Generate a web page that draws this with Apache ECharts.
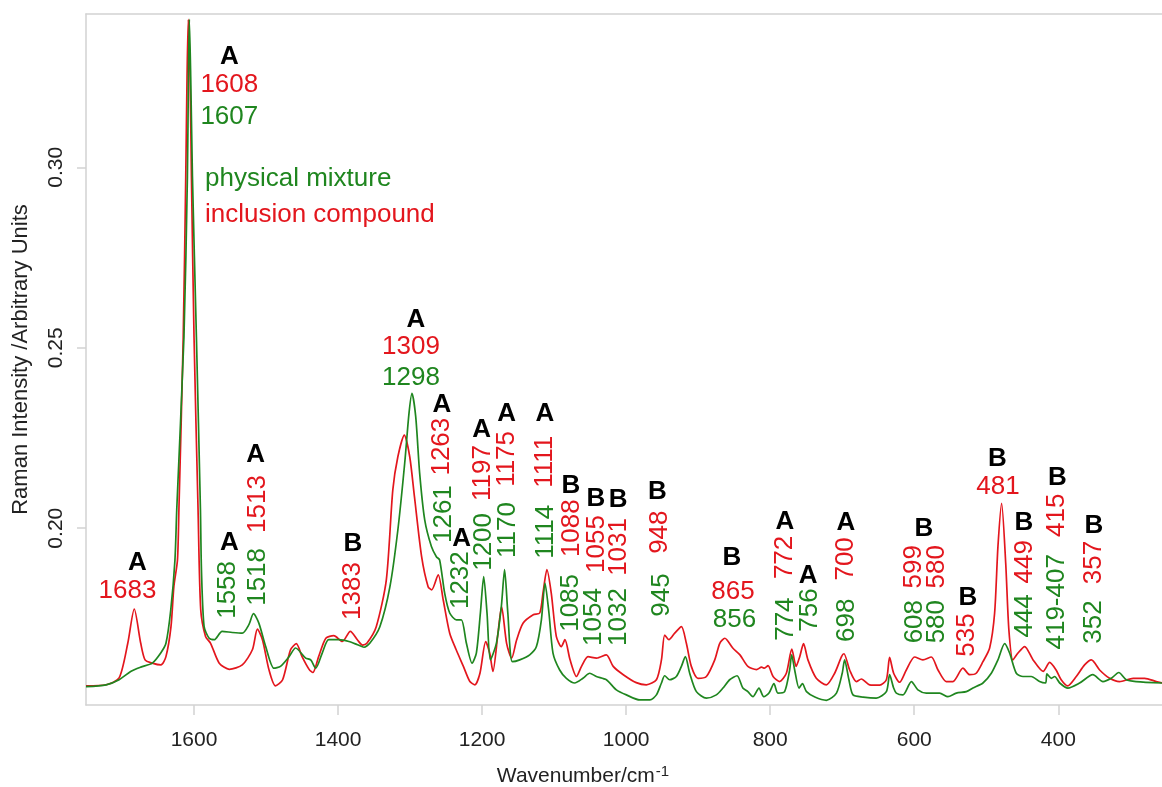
<!DOCTYPE html>
<html>
<head>
<meta charset="utf-8">
<script src="https://cdn.jsdelivr.net/npm/echarts@6/dist/echarts.min.js"></script>
<style>
html,body{margin:0;padding:0;background:#fff;}
#chart{width:1162px;height:787px;}
</style>
</head>
<body>
<div id="chart"></div>
<script>
// ---- data (wavenumber / cm-1, Raman intensity) ----
const inclusionCompound = [
[1750,0.1563],[1722,0.1566],[1704,0.1585],[1692,0.1681],[1683,0.1776],[1674,0.1681],[1668,0.1635],
[1658,0.1626],[1646,0.1621],[1639,0.1644],[1632,0.1727],[1628,0.1838],[1623,0.1912],[1621,0.2051],
[1615,0.2530],[1611.5,0.2974],[1609.7,0.3250],[1608,0.3410],[1605.5,0.3250],[1603.6,0.2974],
[1600,0.2530],[1594.4,0.2051],[1590.7,0.1774],[1584,0.1700],[1577,0.1681],[1565,0.1626],[1551,0.1609],
[1533,0.1621],[1519,0.1663],[1512,0.1720],[1505,0.1691],[1496,0.1608],[1487,0.1563],[1477,0.1580],
[1466,0.1663],[1458,0.1680],[1450,0.1644],[1440,0.1608],[1435,0.1600],[1427,0.1644],[1417,0.1695],
[1406,0.1702],[1394,0.1686],[1383,0.1714],[1373,0.1690],[1366,0.1676],[1360,0.1681],[1347,0.1727],
[1333,0.1857],[1324,0.2106],[1317,0.2198],[1308,0.2258],[1300.5,0.2198],[1294,0.2088],[1284,0.1921],
[1275,0.1838],[1270,0.1829],[1261,0.1871],[1254,0.1801],[1245,0.1709],[1236,0.1663],[1226,0.1617],
[1217,0.1575],[1210,0.1566],[1203,0.1598],[1195,0.1686],[1189.5,0.1654],[1185,0.1603],[1178,0.1709],
[1173,0.1783],[1166,0.1681],[1159,0.1640],[1152,0.1691],[1143,0.1737],[1129,0.1760],[1120,0.1765],
[1115.5,0.1820],[1110,0.1885],[1104,0.1820],[1097,0.1700],[1090,0.1672],[1085,0.1691],[1078,0.1636],
[1069,0.1589],[1062,0.1617],[1053,0.1644],[1041,0.1640],[1027.5,0.1649],[1018,0.1617],[1004,0.1594],
[986,0.1572],[972,0.1566],[958,0.1580],[951,0.1635],[946.5,0.1704],[940.6,0.1691],[932.6,0.1709],
[923.3,0.1727],[916.4,0.1681],[909.5,0.1617],[900.3,0.1584],[888.6,0.1589],[877,0.1635],[870,0.1681],
[863,0.1695],[852,0.1668],[842,0.1649],[831,0.1617],[819,0.1608],[812,0.1615],[808,0.1612],[803,0.1619],
[796,0.1589],[787,0.1575],[777.6,0.1598],[770,0.1665],[764,0.1617],[759,0.1644],[753.7,0.1680],
[747.6,0.1635],[736,0.1584],[722,0.1566],[710.5,0.1598],[701,0.1644],[697.6,0.1652],[689.7,0.1607],
[680.4,0.1575],[673.4,0.1582],[662,0.1566],[648,0.1565],[638.7,0.1580],[634.2,0.1642],[628.6,0.1598],
[620.3,0.1573],[611,0.1607],[599.5,0.1643],[588,0.1635],[576.3,0.1643],[567,0.1607],[555.5,0.1575],
[546.3,0.1575],[532.4,0.1612],[523,0.1594],[514,0.1598],[504.6,0.1630],[495.3,0.1668],[488.4,0.1765],
[483.8,0.1949],[478.7,0.2069],[473,0.1903],[468.6,0.1718],[463,0.1635],[456,0.1654],[446.7,0.1672],
[435,0.1635],[421,0.1603],[412,0.1628],[403,0.1607],[396,0.1580],[387,0.1563],[375,0.1589],
[363.5,0.1621],[354,0.1635],[342.6,0.1607],[328.7,0.1584],[315,0.1575],[296,0.1584],[280,0.1584],
[264,0.1575],[256,0.1571]
];
const physicalMixture = [
[1750,0.1561],[1722,0.1566],[1704,0.1580],[1688,0.1603],[1674,0.1615],[1658,0.1626],[1646,0.1655],
[1639,0.1681],[1632.3,0.1774],[1626.5,0.1912],[1624,0.2051],[1614,0.2530],[1609.2,0.2974],
[1607.8,0.3250],[1606.5,0.3410],[1604.6,0.3250],[1602.2,0.2974],[1596.7,0.2530],[1591.1,0.2051],
[1589.7,0.1885],[1586,0.1727],[1579,0.1695],[1572,0.1691],[1561,0.1714],[1547,0.1711],[1533,0.1709],
[1524,0.1732],[1517.5,0.1763],[1510,0.1737],[1500.5,0.1672],[1489,0.1612],[1480,0.1617],[1468,0.1644],
[1459,0.1668],[1445,0.1640],[1438,0.1635],[1431,0.1612],[1422,0.1654],[1413,0.1691],[1399,0.1691],
[1385,0.1686],[1373,0.1677],[1364,0.1670],[1356,0.1681],[1342,0.1727],[1328,0.1838],[1317,0.1995],
[1307.5,0.2180],[1301.5,0.2319],[1297.4,0.2374],[1292.2,0.2309],[1286.7,0.2152],[1279.7,0.2023],
[1270.4,0.1949],[1263.5,0.1921],[1259,0.1912],[1252,0.1820],[1245,0.1765],[1235.7,0.1746],
[1228.8,0.1746],[1221.8,0.1681],[1214,0.1626],[1208,0.1654],[1202.4,0.1765],[1197.8,0.1866],
[1193.2,0.1765],[1188.5,0.1635],[1180.2,0.1681],[1173.3,0.1783],[1168.8,0.1885],[1164.3,0.1765],
[1158,0.1630],[1147.8,0.1635],[1133.9,0.1649],[1124.6,0.1672],[1117.7,0.1746],[1112.7,0.1848],
[1107.2,0.1765],[1101.6,0.1654],[1092.3,0.1607],[1083,0.1584],[1071.5,0.1571],[1060,0.1584],
[1050.6,0.1598],[1041.4,0.1589],[1027.5,0.1580],[1013.6,0.1552],[999.7,0.1538],[981,0.1524],
[967,0.1524],[958,0.1538],[951,0.1571],[946.5,0.1591],[939.6,0.1580],[930.3,0.1589],[923.3,0.1617],
[917.8,0.1644],[911.8,0.1598],[902.5,0.1547],[888.6,0.1529],[874.8,0.1538],[865.6,0.1557],
[856.3,0.1580],[846,0.1591],[838,0.1557],[831,0.1547],[824,0.1533],[815.6,0.1557],[809,0.1533],
[801.7,0.1543],[794.8,0.1569],[789.3,0.1543],[780,0.1547],[773,0.1607],[770.2,0.1649],[766,0.1607],
[760,0.1557],[755.3,0.1569],[749.6,0.1547],[738,0.1532],[722,0.1523],[708,0.1543],[700,0.1598],
[696.7,0.1635],[690.7,0.1580],[685,0.1538],[671,0.1532],[652.7,0.1529],[638.7,0.1547],[634.2,0.1594],
[628.6,0.1557],[624.9,0.1543],[615.7,0.1538],[604,0.1575],[594.9,0.1552],[583.3,0.1543],[564.8,0.1543],
[553.3,0.1533],[541.6,0.1543],[527.7,0.1547],[518.5,0.1557],[504.6,0.1571],[493,0.1598],[483.8,0.1635],
[474.5,0.1680],[467.6,0.1654],[458.3,0.1598],[449,0.1589],[437.5,0.1589],[426,0.1575],[417.6,0.1571],
[415.8,0.1596],[409.7,0.1584],[405,0.1589],[398,0.1571],[386.7,0.1557],[370.4,0.1571],[352,0.1594],
[338,0.1575],[326.4,0.1584],[316,0.1600],[305.6,0.1580],[291.7,0.1575],[256,0.1571]
];
const xTickValues = [1600,1400,1200,1000,800,600,400];
const yTickValues = [0.20,0.25,0.30];

// annotations: [text, wavenumber, intensity, vertical(1) / horizontal(0)]
const bandLetters = [
['A',1551,0.3306,0],['A',1678.5,0.1903,0],['A',1550.8,0.1959,0],['A',1514.4,0.2203,0],['B',1379.3,0.1956,0],
['A',1292.1,0.2577,0],['A',1255.7,0.2343,0],['A',1228.4,0.1970,0],['A',1200.6,0.2272,0],['A',1165.9,0.2316,0],
['A',1112.7,0.2316,0],['B',1076.6,0.2117,0],['B',1041.9,0.2081,0],['B',1011.3,0.2078,0],['B',956.5,0.2100,0],
['B',853.1,0.1917,0],['A',779.5,0.2018,0],['A',747.5,0.1868,0],['A',694.8,0.2014,0],['B',586.5,0.1998,0],
['B',525.4,0.1806,0],['B',484.4,0.2192,0],['B',447.6,0.2016,0],['B',401.1,0.2140,0],['B',350.4,0.2006,0]
];
const inclusionLabels = [
['1608',1551,0.3228,0],['1683',1692.4,0.1826,0],['1513',1511.9,0.2067,1],['1383',1379.3,0.1826,1],
['1309',1298.7,0.2502,0],['1263',1255.7,0.2226,1],['1197',1199.5,0.2153,1],['1175',1165.9,0.2192,1],
['1111',1112.7,0.2184,1],['1088',1075.2,0.2000,1],['1055',1040.5,0.1956,1],['1031',1009.9,0.1948,1],
['948',953.4,0.1989,1],['865',851.7,0.1824,0],['772',779.5,0.1919,1],['700',694.4,0.1915,1],
['599',600.3,0.1893,1],['580',568.8,0.1893,1],['535',527.2,0.1704,1],['481',483.7,0.2115,0],
['449',446.9,0.1907,1],['415',401.8,0.2036,1],['357',350.4,0.1905,1]
];
const mixtureLabels = [
['1607',1551,0.3140,0],['1558',1552.8,0.1829,1],['1518',1511.9,0.1865,1],['1298',1298.7,0.2416,0],
['1261',1252.9,0.2039,1],['1232',1229.3,0.1856,1],['1200',1197.4,0.1962,1],['1170',1164.8,0.1995,1],
['1114',1111.3,0.1990,1],['1085',1076.6,0.1793,1],['1054',1044.7,0.1754,1],['1032',1009.9,0.1754,1],
['945',950.2,0.1815,1],['856',849.6,0.1745,0],['774',778.4,0.1748,1],['756',744.7,0.1773,1],
['698',693.4,0.1745,1],['608',599,0.1741,1],['580',568.8,0.1741,1],['444',446.2,0.1757,1],
['419-407',401.8,0.1796,1],['352',350.4,0.1740,1]
];
// legend texts: [text, wavenumber (left edge), intensity]
const legendNotes = [
['physical mixture',1584.8,0.2967,'green'],
['inclusion compound',1584.8,0.2868,'red']
];

const RED = '#e3161d';
const GREEN = '#1f861f';
const SANS = '"Liberation Sans", Arial, sans-serif';

function labelSeries(name, arr, color, bold) {
  return {
    type: 'scatter', name: name, silent: true, z: 5,
    symbol: 'circle', symbolSize: 1,
    itemStyle: { color: 'transparent', opacity: 1 },
    data: arr.map(d => ({
      value: [d[1], d[2]],
      label: {
        show: true, position: 'inside', formatter: d[0],
        rotate: d[3] ? 90 : 0, align: 'center', verticalAlign: 'middle',
        color: color, fontSize: 26, fontFamily: SANS, opacity: 1,
        textBorderWidth: 0,
        fontWeight: bold ? 'bold' : 'normal'
      }
    }))
  };
}

const chart = echarts.init(document.getElementById('chart'), null, { renderer: 'canvas' });
const axisGray = '#d2d2d2';
chart.setOption({
  animation: false,
  backgroundColor: '#ffffff',
  grid: { left: 86, top: 14, right: 0, bottom: 82, containLabel: false, outerBoundsMode: 'none' },
  xAxis: [{
    type: 'value', inverse: true, min: 256, max: 1750,
    name: '{a|Wavenumber/cm}{b|-1}', nameLocation: 'middle', nameGap: 59,
    nameTextStyle: {
      padding: [0, 82, 0, 0],
      rich: {
        a: { fontFamily: SANS, fontSize: 21, color: '#222' },
        b: { fontFamily: SANS, fontSize: 15, color: '#222', padding: [0, 0, 10, 1] }
      }
    },
    axisLine: { show: true, onZero: false, lineStyle: { color: axisGray, width: 1.5 } },
    axisTick: { show: true, length: 10, lineStyle: { color: axisGray, width: 1.5 }, customValues: xTickValues },
    axisLabel: { show: true, margin: 25, color: '#222', fontFamily: SANS, fontSize: 21,
      customValues: xTickValues, formatter: v => String(v) },
    splitLine: { show: false }
  }, {
    type: 'value', inverse: true, min: 256, max: 1750, position: 'top',
    axisLine: { show: true, onZero: false, lineStyle: { color: axisGray, width: 1.5 } },
    axisTick: { show: false }, axisLabel: { show: false }, splitLine: { show: false }
  }],
  yAxis: {
    type: 'value', min: 0.151, max: 0.3425,
    name: 'Raman Intensity /Arbitrary Units', nameLocation: 'middle', nameGap: 54, nameRotate: 90,
    nameTextStyle: { fontFamily: SANS, fontSize: 22, color: '#222' },
    axisLine: { show: true, onZero: false, lineStyle: { color: axisGray, width: 1.5 } },
    axisTick: { show: true, length: 9, lineStyle: { color: axisGray, width: 1.5 }, customValues: yTickValues },
    axisLabel: {
      show: true, rotate: 90, margin: 19, color: '#222', fontFamily: SANS, fontSize: 21,
      customValues: yTickValues, formatter: v => v.toFixed(2)
    },
    splitLine: { show: false }
  },
  series: [
    {
      type: 'line', name: 'inclusion compound', data: inclusionCompound,
      symbol: 'none', showSymbol: false, smooth: 0.25, z: 2,
      lineStyle: { color: RED, width: 1.7, join: 'round' }, itemStyle: { color: RED }
    },
    {
      type: 'line', name: 'physical mixture', data: physicalMixture,
      symbol: 'none', showSymbol: false, smooth: 0.25, z: 3,
      lineStyle: { color: GREEN, width: 1.7, join: 'round' }, itemStyle: { color: GREEN }
    },
    labelSeries('letters', bandLetters, '#000000', true),
    labelSeries('inclusion labels', inclusionLabels, RED, false),
    labelSeries('mixture labels', mixtureLabels, GREEN, false),
    {
      type: 'scatter', name: 'legend notes', silent: true, z: 5, symbolSize: 1,
      itemStyle: { color: 'transparent', opacity: 1 },
      data: legendNotes.map(d => ({
        value: [d[1], d[2]],
        label: {
          show: true, position: 'inside', formatter: d[0], align: 'left', verticalAlign: 'middle',
          color: d[3] === 'green' ? GREEN : RED, fontSize: 26, fontFamily: SANS, opacity: 1, textBorderWidth: 0
        }
      }))
    }
  ]
});
</script>
</body>
</html>
